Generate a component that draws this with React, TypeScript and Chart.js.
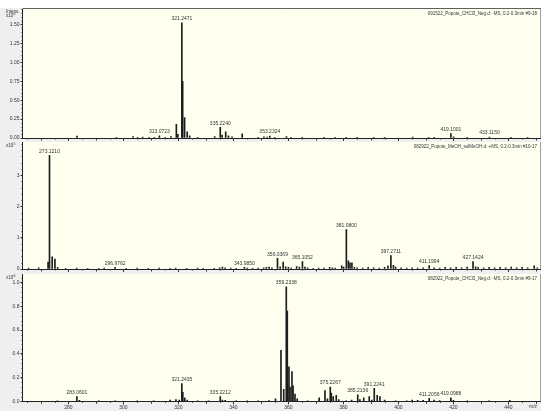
import React, { useEffect, useRef } from "react";
import { Chart, registerables } from "chart.js";
Chart.register(...registerables);

const FONT = "'Liberation Sans', Arial, sans-serif";

const mzMin = 263.3;
const mzMax = 451.5;
const xTickStep = 20;

// ---------- Spectrum 1 (x10^6) ----------
const spec1Title = "091522_Popote_CHCl3_Neg.d: -MS, 0.2-0.3min #9-18";
const spec1Mz = [283.1, 297.5, 303.5, 305.2, 307.0, 309.3, 311.2, 313.0723, 315.2, 317.3, 319.25, 319.8,
  321.2471, 321.55, 322.25, 323.2, 324.1, 327.0, 333.2, 335.224, 335.9, 337.2, 338.2, 339.5, 343.2,
  349.0, 351.1, 352.3, 353.2324, 355.0, 359.3, 361.0, 365.0, 373.0, 377.0, 381.0, 385.0, 391.0, 395.0,
  405.2, 411.0, 413.0, 419.1001, 420.1, 425.0, 433.115, 441.0, 447.0];
const spec1Intensity = [0.025, 0.005, 0.02, 0.01, 0.012, 0.008, 0.01, 0.03, 0.01, 0.02, 0.18, 0.05,
  1.52, 0.75, 0.27, 0.08, 0.03, 0.01, 0.02, 0.14, 0.04, 0.08, 0.03, 0.015, 0.055,
  0.01, 0.015, 0.012, 0.025, 0.01, 0.02, 0.01, 0.005, 0.005, 0.008, 0.005, 0.005, 0.006, 0.005,
  0.012, 0.006, 0.006, 0.06, 0.015, 0.005, 0.012, 0.005, 0.005];
const spec1Labels = ["313.0723", "321.2471", "335.2240", "353.2324", "419.1001", "433.1150"];

// ---------- Spectrum 2 (x10^5) ----------
const spec2Title = "082922_Popote_MeOH_solMeOH.d: +MS, 0.2-0.3min #10-17";
const spec2Mz = [265.5, 269.2, 272.6, 273.121, 274.1, 275.1, 276.1, 279, 283, 287, 291, 293, 296.9762,
  301, 305, 309, 313, 317, 319, 323, 327, 329, 333, 335, 336, 337, 339, 341, 343.985, 345, 347, 349,
  351, 352, 353, 354, 356.0369, 357, 358.1, 359, 360, 361, 363, 364, 365.1052, 366, 367, 369, 371,
  373, 375, 376, 377, 379.4, 380.1, 381.08, 381.8, 382.4, 383.1, 384, 385, 387, 389, 391, 393, 395,
  396.2, 397.2711, 398.2, 399, 401, 403, 405, 407, 409, 411.1994, 413, 415, 417, 419, 421, 423, 425,
  427.1424, 428.1, 429, 431, 433, 435, 437, 439, 441, 443, 445, 447, 449.4, 450.5];
const spec2Intensity = [0.03, 0.04, 0.22, 3.63, 0.39, 0.32, 0.05, 0.02, 0.03, 0.02, 0.02, 0.03, 0.05,
  0.02, 0.03, 0.02, 0.03, 0.02, 0.03, 0.02, 0.03, 0.02, 0.02, 0.04, 0.06, 0.04, 0.03, 0.02, 0.05, 0.03, 0.02, 0.03,
  0.04, 0.05, 0.06, 0.04, 0.34, 0.07, 0.22, 0.07, 0.05, 0.03, 0.08, 0.06, 0.24, 0.06, 0.04, 0.02, 0.03,
  0.03, 0.05, 0.04, 0.03, 0.1, 0.06, 1.26, 0.26, 0.2, 0.2, 0.05, 0.04, 0.03, 0.05, 0.04, 0.03, 0.05,
  0.1, 0.43, 0.12, 0.06, 0.04, 0.03, 0.04, 0.03, 0.04, 0.11, 0.04, 0.03, 0.05, 0.04, 0.05, 0.04, 0.06,
  0.24, 0.07, 0.05, 0.04, 0.05, 0.04, 0.05, 0.04, 0.06, 0.04, 0.05, 0.04, 0.1, 0.04];
const spec2Labels = ["273.1210", "296.9762", "343.9850", "356.0369", "365.1052", "381.0800", "397.2711", "411.1994", "427.1424"];

// ---------- Spectrum 3 (x10^6) ----------
const spec3Title = "082922_Popote_CHCl3_Neg.d: -MS, 0.2-0.3min #9-17";
const spec3Mz = [276, 283.0601, 284, 291, 297, 305, 311, 317, 319.1, 320.3, 321.2435, 321.6, 322.3, 323.2,
  327, 331, 335.2212, 336, 337, 341, 345, 349, 353, 355.3, 357.3, 358.3, 359.2338, 359.6, 360.2, 360.6,
  361.3, 361.7, 362.4, 363.2, 367, 371.2, 373.3, 374.2, 375.2267, 375.6, 376.3, 377.4, 378.3, 381, 383,
  385.2136, 386, 387.4, 389.4, 390.3, 391.2241, 392.3, 393.3, 395, 399, 403, 405, 407, 409, 411.2056,
  413, 415, 419.0988, 420, 425, 433, 440.5];
const spec3Intensity = [0.003, 0.04, 0.008, 0.004, 0.004, 0.004, 0.005, 0.01, 0.015, 0.01, 0.15, 0.075, 0.03, 0.01,
  0.004, 0.004, 0.04, 0.01, 0.008, 0.004, 0.004, 0.005, 0.006, 0.02, 0.43, 0.1, 0.965, 0.76, 0.29, 0.12,
  0.25, 0.13, 0.06, 0.02, 0.005, 0.03, 0.09, 0.02, 0.12, 0.07, 0.04, 0.05, 0.015, 0.005, 0.01,
  0.055, 0.015, 0.03, 0.04, 0.01, 0.11, 0.05, 0.04, 0.01, 0.005, 0.005, 0.01, 0.008, 0.008, 0.025,
  0.01, 0.006, 0.03, 0.008, 0.004, 0.004, 0.008];
const spec3Labels = ["283.0601", "321.2435", "335.2212", "359.2338", "375.2267", "385.2136", "391.2241", "411.2056", "419.0988"];

type Panel = {
  title: string; mz: number[]; intensity: number[]; labels: string[];
  yMax: number; yStep: number; yDec: number; yTickMax: number; exponent: string; intens: boolean;
  top: number; height: number; padTop: number; xHeight: number; showX: boolean; topLine: boolean;
};

const panels: Panel[] = [
  { title: spec1Title, mz: spec1Mz, intensity: spec1Intensity, labels: spec1Labels,
    yMax: 1.704, yStep: 0.25, yDec: 2, yTickMax: 1.6, exponent: "6", intens: true,
    top: 0, height: 142, padTop: 9, xHeight: 3.5, showX: false, topLine: true },
  { title: spec2Title, mz: spec2Mz, intensity: spec2Intensity, labels: spec2Labels,
    yMax: 4.06, yStep: 1, yDec: 0, yTickMax: 3.5, exponent: "5", intens: false,
    top: 138, height: 135, padTop: 2.5, xHeight: 2.7, showX: false, topLine: false },
  { title: spec3Title, mz: spec3Mz, intensity: spec3Intensity, labels: spec3Labels,
    yMax: 1.073, yStep: 0.2, yDec: 1, yTickMax: 1.05, exponent: "6", intens: false,
    top: 270, height: 149, padTop: 2, xHeight: 17.7, showX: true, topLine: false },
];

function makeDecor(p: Panel) {
  return {
    id: "decor",
    beforeDraw(chart: any) {
      const { ctx, chartArea: a } = chart;
      ctx.save();
      ctx.fillStyle = "#fffff0";
      ctx.fillRect(a.left, a.top, a.right - a.left, a.bottom - a.top);
      ctx.restore();
    },
    afterDraw(chart: any) {
      const { ctx, chartArea: a } = chart;
      const xs = chart.scales.x;
      const ys = chart.scales.y;
      ctx.save();
      // frame
      ctx.lineWidth = 1;
      ctx.strokeStyle = "#a0a0a0";
      ctx.beginPath();
      ctx.moveTo(a.right + 0.5, a.top);
      ctx.lineTo(a.right + 0.5, a.bottom);
      ctx.stroke();
      if (p.topLine) {
        ctx.strokeStyle = "#606060";
        ctx.beginPath();
        ctx.moveTo(a.left, a.top - 0.5);
        ctx.lineTo(a.right + 1, a.top - 0.5);
        ctx.stroke();
      }
      // minor ticks
      ctx.strokeStyle = "#333";
      ctx.beginPath();
      const minor = p.yStep / 5;
      for (let v = 0; v <= p.yMax + 1e-9; v += minor) {
        const y = Math.round(ys.getPixelForValue(v)) + 0.5;
        ctx.moveTo(a.left - 1, y);
        ctx.lineTo(a.left, y);
      }
      for (let m = 265; m <= mzMax; m += 5) {
        const x = Math.round(xs.getPixelForValue(m)) + 0.5;
        const len = m % 10 === 0 ? 2.5 : 1.5;
        ctx.moveTo(x, a.bottom);
        ctx.lineTo(x, a.bottom + len);
      }
      ctx.stroke();
      // title
      ctx.fillStyle = "#333";
      ctx.font = `4.5px ${FONT}`;
      ctx.textAlign = "right";
      ctx.textBaseline = "middle";
      ctx.fillText(p.title, a.right - 3, a.top + 4.5);
      // exponent / Intens.
      ctx.textAlign = "left";
      if (p.intens) {
        ctx.fillText("Intens.", 6, a.top + 2.5);
      }
      const ey = p.intens ? a.top + 7 : a.top + 4;
      ctx.font = `4.5px ${FONT}`;
      ctx.fillText("x10", 6, ey);
      const w = ctx.measureText("x10").width;
      ctx.font = `3.5px ${FONT}`;
      ctx.fillText(p.exponent, 6 + w + 0.3, ey - 1.8);
      if (p.showX) {
        ctx.font = `5px ${FONT}`;
        ctx.textAlign = "center";
        ctx.fillText("m/z", 533, a.bottom + 5);
      }
      // peak labels
      ctx.font = `5px ${FONT}`;
      ctx.textAlign = "center";
      ctx.textBaseline = "bottom";
      for (const lab of p.labels) {
        const v = parseFloat(lab);
        let best = 0;
        for (let i = 1; i < p.mz.length; i++) {
          if (Math.abs(p.mz[i] - v) < Math.abs(p.mz[best] - v)) best = i;
        }
        const x = xs.getPixelForValue(p.mz[best]);
        const y = ys.getPixelForValue(p.intensity[best]);
        ctx.fillText(lab, x, y - 1.5);
      }
      ctx.restore();
    },
  };
}

function SpectrumPanel({ p }: { p: Panel }) {
  const ref = useRef<HTMLCanvasElement>(null);
  useEffect(() => {
    const canvas = ref.current!;
    const chart = new Chart(canvas, {
      type: "bar",
      data: {
        datasets: [{
          data: p.mz.map((m, i) => ({ x: m, y: p.intensity[i] })),
          backgroundColor: "#1c1c1c",
          borderWidth: 0,
          barThickness: 1,
        }],
      } as any,
      options: {
        animation: false,
        responsive: false,
        maintainAspectRatio: false,
        devicePixelRatio: 1,
        layout: { padding: { top: p.padTop, right: 10, left: 0, bottom: 0 } },
        plugins: { legend: { display: false }, tooltip: { enabled: false }, title: { display: false } },
        scales: {
          x: {
            type: "linear", min: mzMin, max: mzMax, offset: false,
            grid: { offset: false, drawOnChartArea: false, drawTicks: true, tickLength: 3, color: "#333" },
            border: { display: true, color: "#222", width: 1 },
            ticks: {
              display: p.showX, stepSize: xTickStep, autoSkip: false, includeBounds: false, maxRotation: 0,
              padding: 0, color: "#333", font: { size: 5, family: FONT },
              callback: (v: any) => String(v),
            },
            afterFit: (s: any) => { s.height = p.xHeight; },
          },
          y: {
            type: "linear", min: 0, max: p.yMax,
            grid: { drawOnChartArea: false, drawTicks: true, tickLength: 2, color: "#333" },
            border: { display: true, color: "#222", width: 1 },
            ticks: {
              stepSize: p.yStep, includeBounds: false, padding: 1, color: "#333",
              font: { size: 5, family: FONT },
              callback: (v: any) => Number(v).toFixed(p.yDec),
            },
            afterBuildTicks: (s: any) => { s.ticks = s.ticks.filter((t: any) => t.value <= p.yTickMax); },
            afterFit: (s: any) => { s.width = 22.5; },
          },
        },
      } as any,
      plugins: [makeDecor(p)],
    });
    return () => chart.destroy();
  }, [p]);
  return (
    <canvas
      ref={ref}
      width={550}
      height={p.height}
      style={{ position: "absolute", left: 0, top: p.top, width: 550, height: p.height }}
    />
  );
}

export default function App() {
  return (
    <div style={{ position: "absolute", left: 0, top: 0, width: 550, height: 419, background: "#ffffff", overflow: "hidden" }}>
      <div style={{ position: "absolute", left: 0, top: 8, width: 541, height: 403, background: "#efefef" }} />
      {panels.map((p, i) => (
        <SpectrumPanel key={i} p={p} />
      ))}
    </div>
  );
}
